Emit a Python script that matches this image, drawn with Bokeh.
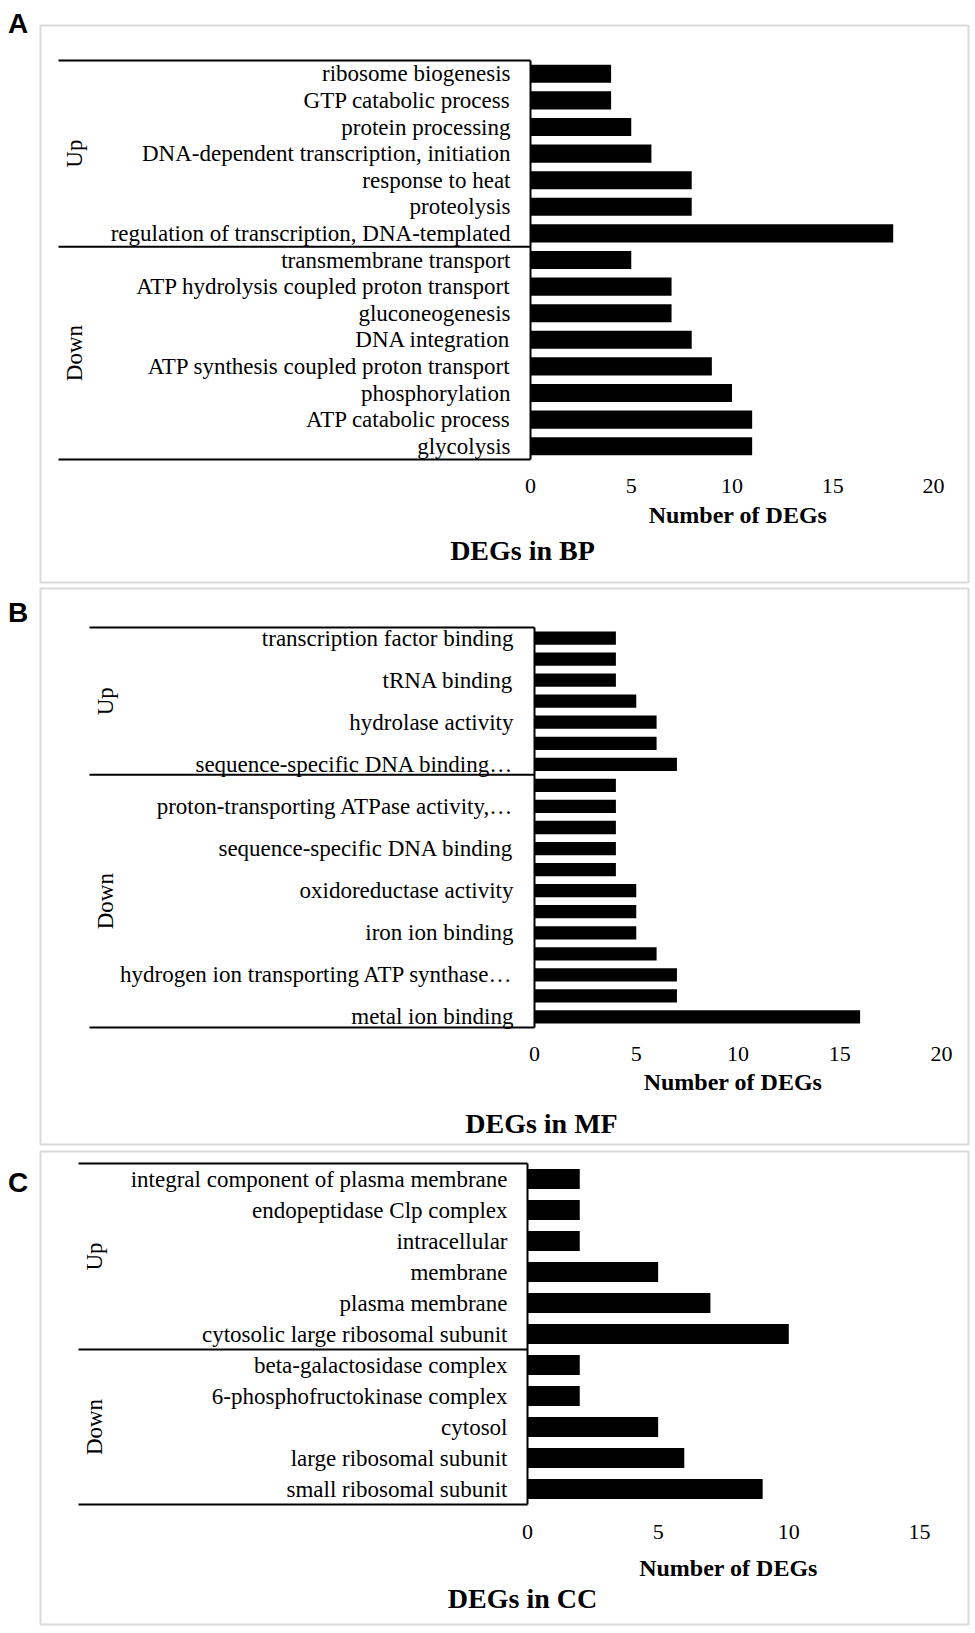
import math
from bokeh.plotting import figure
from bokeh.models import Range1d, ColumnDataSource
from bokeh.core.properties import value
from bokeh.layouts import column
from bokeh.embed import file_html
from bokeh.resources import INLINE

# ---------------- data ----------------
bp_up_terms = ["ribosome biogenesis", "GTP catabolic process", "protein processing",
               "DNA-dependent transcription, initiation", "response to heat", "proteolysis",
               "regulation of transcription, DNA-templated"]
bp_up_counts = [4, 4, 5, 6, 8, 8, 18]
bp_down_terms = ["transmembrane transport", "ATP hydrolysis coupled proton transport", "gluconeogenesis",
                 "DNA integration", "ATP synthesis coupled proton transport", "phosphorylation",
                 "ATP catabolic process", "glycolysis"]
bp_down_counts = [5, 7, 7, 8, 9, 10, 11, 11]
bp_ticks = [0, 5, 10, 15, 20]

# empty strings: rows whose label is not shown in the original chart
mf_up_terms = ["transcription factor binding", "", "tRNA binding", "", "hydrolase activity", "",
               "sequence-specific DNA binding\u2026"]
mf_up_counts = [4, 4, 4, 5, 6, 6, 7]
mf_down_terms = ["", "proton-transporting ATPase activity,\u2026", "", "sequence-specific DNA binding", "",
                 "oxidoreductase activity", "", "iron ion binding", "",
                 "hydrogen ion transporting ATP synthase\u2026", "", "metal ion binding"]
mf_down_counts = [4, 4, 4, 4, 4, 5, 5, 5, 6, 7, 7, 16]
mf_ticks = [0, 5, 10, 15, 20]

cc_up_terms = ["integral component of plasma membrane", "endopeptidase Clp complex", "intracellular",
               "membrane", "plasma membrane", "cytosolic large ribosomal subunit"]
cc_up_counts = [2, 2, 2, 5, 7, 10]
cc_down_terms = ["beta-galactosidase complex", "6-phosphofructokinase complex", "cytosol",
                 "large ribosomal subunit", "small ribosomal subunit"]
cc_down_counts = [2, 2, 5, 6, 9]
cc_ticks = [0, 5, 10, 15]

group_names = ["Up", "Down"]
axis_title = "Number of DEGs"

# ---------------- layout ----------------
PAGE_W = 970
M = 0
SERIF = value("Liberation Serif")
SANS = value("Liberation Sans")


def panel(letter, title, up_terms, up_counts, down_terms, down_counts, ticks, L):
    terms = up_terms + down_terms
    counts = up_counts + down_counts
    n = len(terms)
    n_up = len(up_terms)
    pos = list(range(n))
    o, H = L["origin"], L["height"]
    ft, fb = L["table_top"], L["table_bottom"]
    ax, ppu = L["axis_x"], L["ppu"]
    row = (fb - ft) / n

    def xd(px):
        return (px - ax) / ppu

    def yd(py):
        return -0.5 + (py - ft) / row

    p = figure(width=PAGE_W, height=H,
               x_range=Range1d(xd(M), xd(M + PAGE_W)), y_range=Range1d(yd(o + H), yd(o)),
               output_backend="svg", toolbar_location=None, title=None,
               x_axis_location=None, y_axis_location=None, min_border=0)
    p.outline_line_color = None
    p.xgrid.visible = False
    p.ygrid.visible = False
    p.background_fill_color = "white"
    p.border_fill_color = "white"

    # panel frame (light grey box)
    bx = L["box"]
    p.quad(left=xd(bx[0]), right=xd(bx[2]), top=yd(bx[1]), bottom=yd(bx[3]),
           fill_color=None, line_color="#dadada", line_width=2)

    # bars
    src = ColumnDataSource(dict(y=pos, right=counts, label=terms))
    p.hbar(y="y", left=0, right="right", height=L["bar"], source=src,
           fill_color="black", line_color=None)

    # category (y) axis: line + labels
    p.segment(x0=0, y0=-0.5, x1=0, y1=n - 0.5, line_color="black", line_width=2)
    p.text(x=0, y="y", text="label", source=src, x_offset=-L["label_standoff"],
           text_align="right", text_baseline="middle", text_font=SERIF,
           text_font_size="23px", text_color="black")

    # group table lines and group names
    bounds = [-0.5, n_up - 0.5, n - 0.5]
    p.segment(x0=[xd(L["table_left"])] * 3, y0=bounds, x1=[0] * 3, y1=bounds,
              line_color="black", line_width=2)
    centres = [(n_up - 1) / 2, (n_up + n - 1) / 2]
    p.text(x=[xd(L["group_x"])] * 2, y=centres, text=group_names, angle=math.pi / 2,
           text_align="center", text_baseline="middle", text_font=SERIF,
           text_font_size="23px", text_color="black")

    # value (x) axis: tick labels + title
    p.text(x=ticks, y=[yd(L["tick_y"])] * len(ticks), text=[str(t) for t in ticks],
           text_align="center", text_baseline="middle", text_font=SERIF,
           text_font_size="22px", text_color="black")
    p.text(x=[xd(L["axis_title_xy"][0])], y=[yd(L["axis_title_xy"][1])], text=[axis_title],
           text_align="center", text_baseline="middle", text_font=SERIF, text_font_style="bold",
           text_font_size="24px", text_color="black")

    # panel title and letter
    p.text(x=[xd(L["title_xy"][0])], y=[yd(L["title_xy"][1])], text=[title],
           text_align="center", text_baseline="middle", text_font=SERIF, text_font_style="bold",
           text_font_size="28px", text_color="black")
    p.text(x=[xd(L["letter_xy"][0])], y=[yd(L["letter_xy"][1])], text=[letter],
           text_align="center", text_baseline="middle", text_font=SANS, text_font_style="bold",
           text_font_size="28px", text_color="black")
    return p


LA = dict(origin=0, height=585, table_top=60, table_bottom=459, axis_x=530, ppu=20.15,
          table_left=58, group_x=74, tick_y=485, axis_title_xy=(737.5, 514), title_xy=(522, 550),
          letter_xy=(17.5, 23), box=(40, 25, 968, 582), bar=0.68, label_standoff=20)
LB = dict(origin=585, height=563, table_top=627, table_bottom=1027, axis_x=534, ppu=20.35,
          table_left=89, group_x=105, tick_y=1053, axis_title_xy=(732.5, 1081), title_xy=(541, 1123),
          letter_xy=(17.5, 612), box=(40, 588, 968, 1144), bar=0.63, label_standoff=21)
LC = dict(origin=1148, height=482, table_top=1163, table_bottom=1504, axis_x=527, ppu=26.13,
          table_left=78, group_x=94, tick_y=1531, axis_title_xy=(728, 1567), title_xy=(522, 1598),
          letter_xy=(17.5, 1182), box=(40, 1151, 968, 1624), bar=0.645, label_standoff=20)

pA = panel("A", "DEGs in BP", bp_up_terms, bp_up_counts, bp_down_terms, bp_down_counts, bp_ticks, LA)
pB = panel("B", "DEGs in MF", mf_up_terms, mf_up_counts, mf_down_terms, mf_down_counts, mf_ticks, LB)
pC = panel("C", "DEGs in CC", cc_up_terms, cc_up_counts, cc_down_terms, cc_down_counts, cc_ticks, LC)

layout = column(pA, pB, pC, spacing=0)
open("out.html", "w").write(file_html(layout, INLINE))
